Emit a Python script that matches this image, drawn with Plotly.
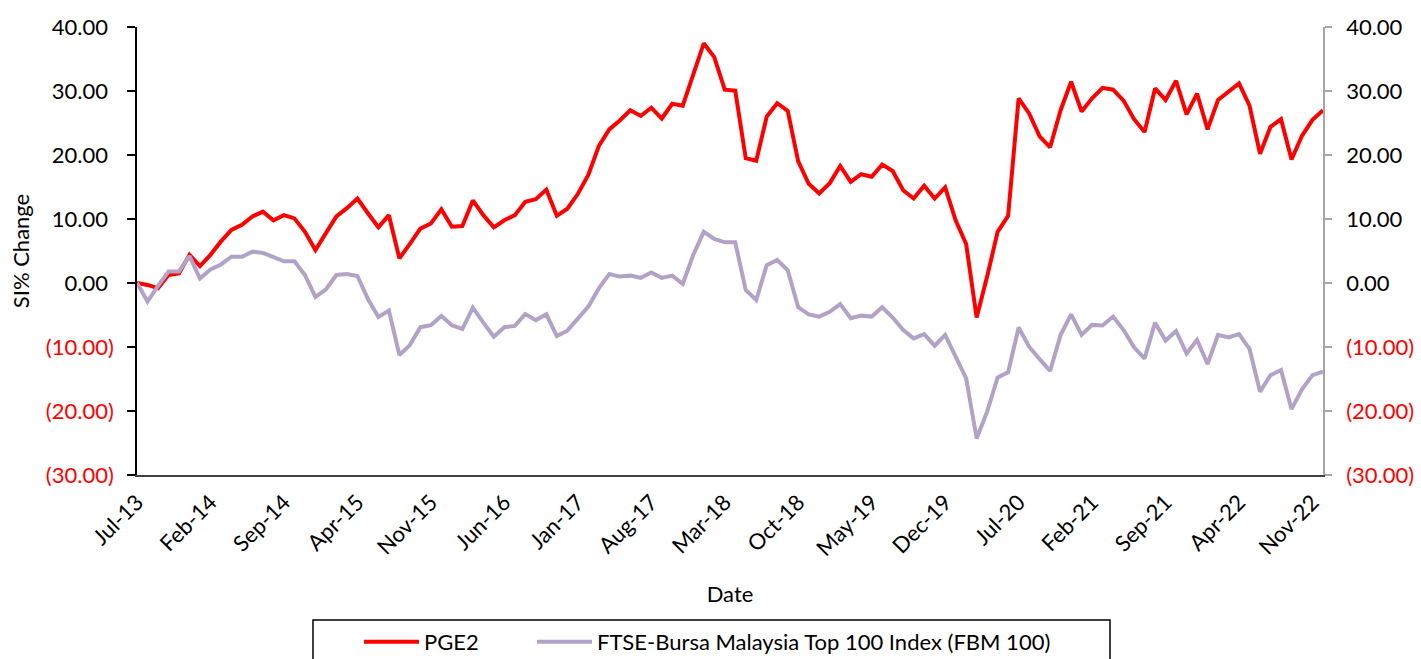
import plotly.graph_objects as go
import pandas as pd

# Monthly categories Jul-13 .. Dec-22
months = pd.date_range("2013-07-01", periods=114, freq="MS").strftime("%b-%y").tolist()
tick_months = months[::7]

pge2 = [
    0.0, -0.3, -0.8, 1.25, 1.5, 4.4, 2.65, 4.4, 6.5, 8.3,
    9.1, 10.4, 11.15, 9.8, 10.6, 10.1, 8.0, 5.15, 7.8, 10.4,
    11.7, 13.2, 10.9, 8.7, 10.6, 3.85, 6.1, 8.5, 9.3, 11.5,
    8.8, 8.9, 12.9, 10.6, 8.7, 9.8, 10.6, 12.7, 13.1, 14.6,
    10.5, 11.6, 13.9, 16.9, 21.4, 24.0, 25.4, 27.0, 26.1, 27.4,
    25.7, 28.0, 27.7, 32.8, 37.45, 35.3, 30.2, 30.05, 19.5, 19.1,
    26.0, 28.1, 26.9, 19.0, 15.5, 14.0, 15.6, 18.3, 15.8, 17.0,
    16.6, 18.5, 17.5, 14.5, 13.2, 15.2, 13.2, 14.95, 9.8, 6.1,
    -5.4, 1.0, 8.0, 10.5, 28.85, 26.5, 22.9, 21.2, 27.0, 31.45,
    26.8, 28.85, 30.5, 30.2, 28.5, 25.6, 23.6, 30.4, 28.6, 31.6,
    26.35, 29.6, 24.0, 28.6, 29.9, 31.2, 27.7, 20.2, 24.4, 25.6,
    19.3, 23.0, 25.5, 27.0,
]

fbm100 = [
    0.0, -2.9, -0.45, 1.8, 1.8, 4.2, 0.7, 2.1, 2.9, 4.1,
    4.1, 4.9, 4.7, 4.1, 3.4, 3.4, 1.25, -2.2, -1.0, 1.25,
    1.4, 1.1, -2.5, -5.3, -4.3, -11.25, -9.7, -6.9, -6.6, -5.15,
    -6.6, -7.2, -3.85, -6.2, -8.4, -6.9, -6.7, -4.85, -5.8, -4.9,
    -8.3, -7.45, -5.5, -3.7, -0.85, 1.4, 1.0, 1.15, 0.8, 1.65,
    0.8, 1.15, -0.15, 4.4, 8.0, 6.9, 6.35, 6.35, -1.1, -2.65,
    2.8, 3.6, 2.0, -3.8, -4.9, -5.25, -4.5, -3.3, -5.5, -5.1,
    -5.25, -3.8, -5.4, -7.35, -8.65, -8.0, -9.8, -8.1, -11.5, -14.9,
    -24.3, -20.1, -14.75, -13.95, -6.95, -9.95, -11.9, -13.75, -8.1, -4.9,
    -8.1, -6.55, -6.65, -5.25, -7.35, -10.05, -11.8, -6.2, -9.0, -7.5,
    -11.0, -8.9, -12.65, -8.1, -8.5, -8.0, -10.3, -17.0, -14.4, -13.6,
    -19.7, -16.6, -14.4, -13.85,
]

y_ticks = [40, 30, 20, 10, 0, -10, -20, -30]


def fmt(v):
    if v < 0:
        return '<span style="color:#FF0000">(%.2f)</span>' % abs(v)
    return '%.2f<span style="color:rgba(0,0,0,0)">)</span>' % v


y_ticktext = [fmt(v) for v in y_ticks]

FONT = "Lato"
FS = 22

# plot area in pixels
L, R, T, B = 137, 1323, 27, 475
W, H = R - L, B - T


def px(xp):
    return (xp - L) / W


def py(yp):
    return (B - yp) / H


fig = go.Figure()
fig.add_trace(go.Scatter(x=months, y=pge2, mode="lines", name="PGE2",
                         line=dict(color="#FF0000", width=4), legend="legend"))
fig.add_trace(go.Scatter(x=months, y=fbm100, mode="lines",
                         name="FTSE-Bursa Malaysia Top 100 Index (FBM 100)",
                         line=dict(color="#B3A2C7", width=4), legend="legend2"))
fig.add_trace(go.Scatter(x=[months[0]], y=[None], yaxis="y2", showlegend=False,
                         hoverinfo="skip", mode="lines"))

leg_common = dict(orientation="h", xanchor="left", yanchor="middle",
                  bgcolor="rgba(0,0,0,0)", borderwidth=0, itemwidth=55,
                  font=dict(family=FONT, size=FS, color="black"))

fig.update_layout(
    width=1421, height=659,
    margin=dict(l=L, r=1421 - R, t=T, b=659 - B, autoexpand=False),
    paper_bgcolor="white", plot_bgcolor="white",
    font=dict(family=FONT, size=FS, color="black"),
    legend=dict(x=px(359), y=py(642), **leg_common),
    legend2=dict(x=px(532), y=py(642), **leg_common),
    xaxis=dict(type="category", range=[0, 113], tickmode="array",
               tickvals=tick_months, ticktext=tick_months, tickangle=-45,
               showline=True, linecolor="#404040", linewidth=1.5,
               ticks="", showgrid=False, zeroline=False, ticklabelstandoff=4,
               tickfont=dict(family=FONT, size=FS),
               title=dict(text="Date", standoff=27, font=dict(family=FONT, size=FS))),
    yaxis=dict(range=[-30, 40], tickmode="array", tickvals=y_ticks, ticktext=y_ticktext,
               showline=True, linecolor="black", linewidth=1.5,
               ticks="outside", ticklen=8, tickcolor="black", tickwidth=1.5,
               ticklabelstandoff=9,
               showgrid=False, zeroline=False,
               tickfont=dict(family=FONT, size=FS),
               title=dict(text="SI% Change", standoff=10, font=dict(family=FONT, size=FS))),
    yaxis2=dict(range=[-30, 40], overlaying="y", side="right", tickmode="array",
                tickvals=y_ticks, ticktext=y_ticktext,
                showline=True, linecolor="#A6A6A6", linewidth=1.5,
                ticks="outside", ticklen=7, tickcolor="#A6A6A6", tickwidth=1.5,
                ticklabelstandoff=10,
                showgrid=False, zeroline=False,
                tickfont=dict(family=FONT, size=FS)),
    shapes=[dict(type="rect", xref="paper", yref="paper",
                 x0=px(313), x1=px(1110), y0=py(620), y1=py(720),
                 line=dict(color="black", width=1.5), fillcolor="rgba(0,0,0,0)",
                 layer="above")],
)

fig.write_html("out.html", config={"displayModeBar": False},
               post_script="document.body.style.margin='0px';")
